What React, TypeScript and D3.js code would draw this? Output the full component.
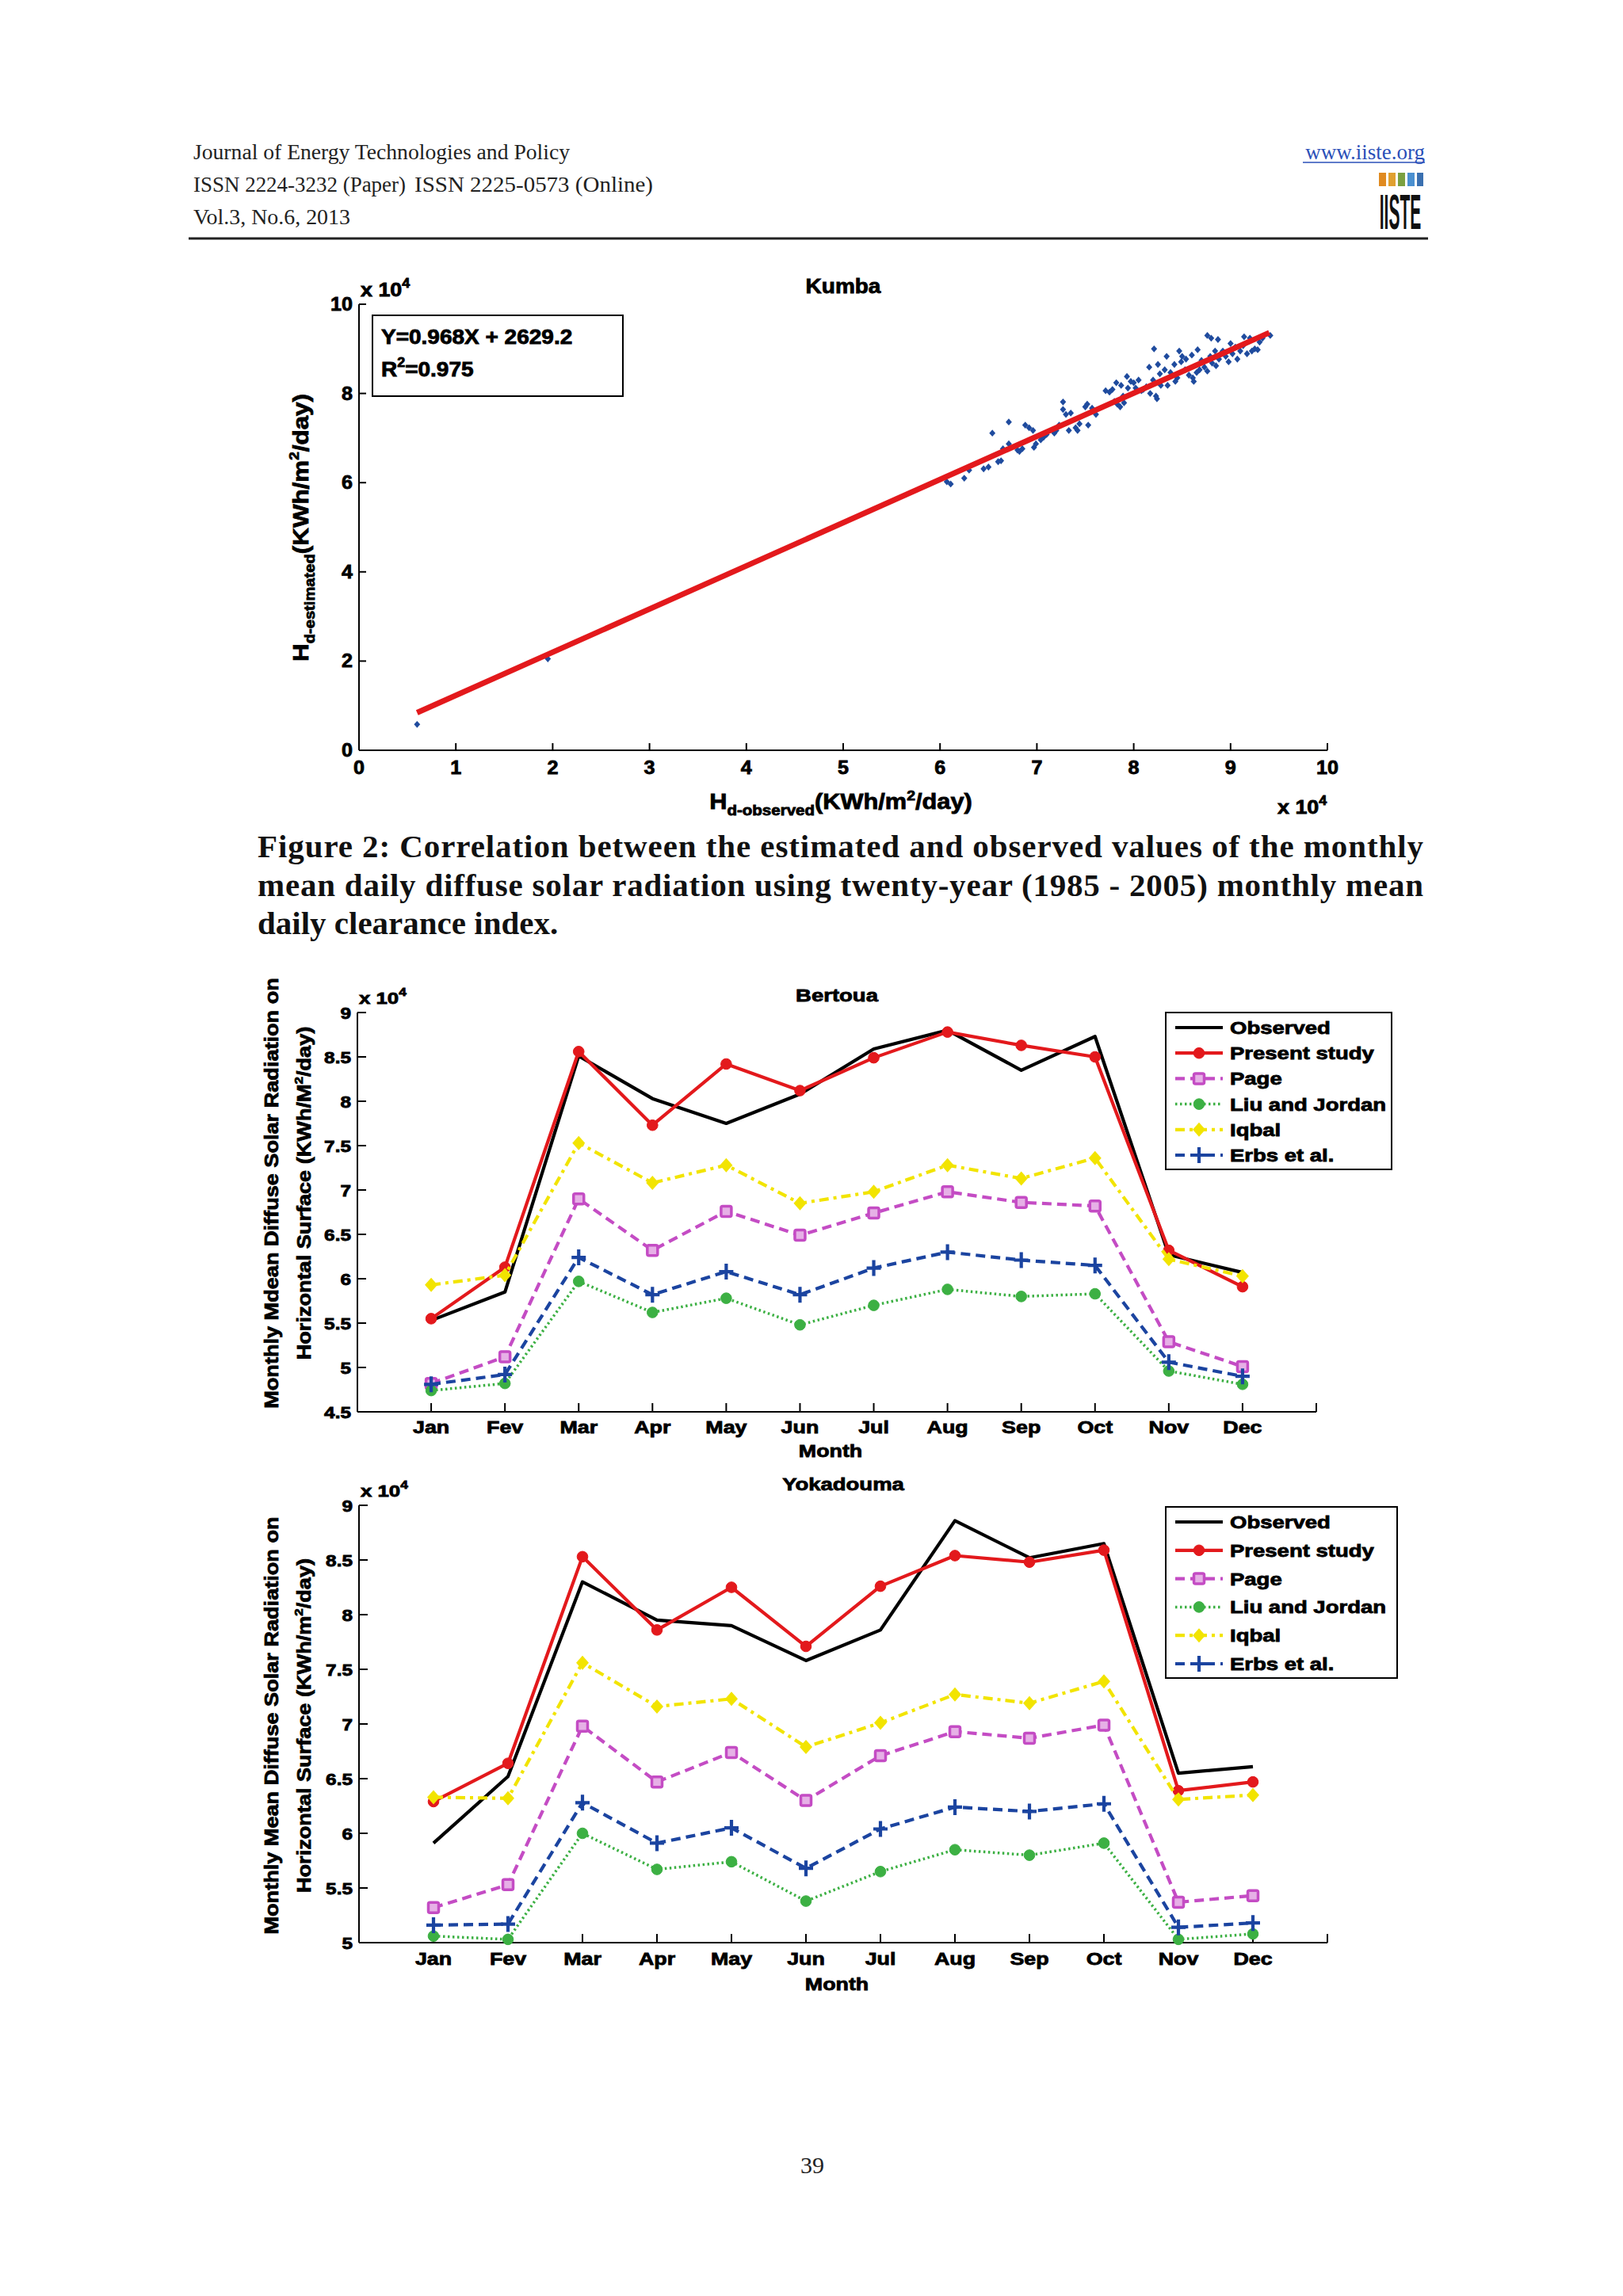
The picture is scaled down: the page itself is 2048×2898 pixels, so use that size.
import React from 'react';
import * as d3 from 'd3';

// ---------- DATA ----------
const MONTHS = ['Jan', 'Fev', 'Mar', 'Apr', 'May', 'Jun', 'Jul', 'Aug', 'Sep', 'Oct', 'Nov', 'Dec'];
const SERIES_NAMES = ['Observed', 'Present study', 'Page', 'Liu and Jordan', 'Iqbal', 'Erbs et al.'];

// Bertoua (x 10^4 KWh/M^2/day)
const BERTOUA_OBSERVED = [5.53, 5.85, 8.51, 8.03, 7.75, 8.08, 8.59, 8.8, 8.35, 8.73, 6.27, 6.07];
const BERTOUA_PRESENT = [5.55, 6.13, 8.56, 7.73, 8.42, 8.12, 8.49, 8.78, 8.63, 8.5, 6.32, 5.91];
const BERTOUA_PAGE = [4.82, 5.12, 6.9, 6.32, 6.76, 6.49, 6.74, 6.98, 6.86, 6.82, 5.29, 5.01];
const BERTOUA_LIU = [4.74, 4.82, 5.97, 5.62, 5.78, 5.48, 5.7, 5.88, 5.8, 5.83, 4.96, 4.81];
const BERTOUA_IQBAL = [5.93, 6.04, 7.53, 7.08, 7.28, 6.85, 6.98, 7.28, 7.13, 7.36, 6.22, 6.03];
const BERTOUA_ERBS = [4.81, 4.92, 6.24, 5.82, 6.08, 5.82, 6.12, 6.3, 6.21, 6.15, 5.06, 4.9];

// Yokadouma (x 10^4 KWh/m^2/day)
const YOKADOUMA_OBSERVED = [5.91, 6.52, 8.3, 7.95, 7.9, 7.58, 7.86, 8.86, 8.52, 8.65, 6.55, 6.61];
const YOKADOUMA_PRESENT = [6.29, 6.64, 8.53, 7.86, 8.25, 7.71, 8.26, 8.54, 8.48, 8.59, 6.39, 6.47];
const YOKADOUMA_PAGE = [5.32, 5.53, 6.98, 6.47, 6.74, 6.3, 6.71, 6.93, 6.87, 6.99, 5.37, 5.43];
const YOKADOUMA_LIU = [5.06, 5.03, 6.0, 5.67, 5.74, 5.38, 5.65, 5.85, 5.8, 5.91, 5.03, 5.08];
const YOKADOUMA_IQBAL = [6.33, 6.32, 7.56, 7.16, 7.23, 6.79, 7.01, 7.27, 7.19, 7.39, 6.31, 6.35];
const YOKADOUMA_ERBS = [5.16, 5.17, 6.28, 5.91, 6.05, 5.68, 6.04, 6.24, 6.2, 6.27, 5.14, 5.18];

// Kumba scatter (x 10^4 KWh/m^2/day)
const KUMBA_OBSERVED = [
  0.6, 1.95, 6.07, 6.11, 6.25, 6.3, 6.45, 6.5, 6.54, 6.6, 6.63, 6.65, 6.71, 6.71, 6.8, 6.82, 6.85,
  6.88, 6.92, 6.96, 6.97, 6.99, 7.04, 7.07, 7.1, 7.18, 7.2, 7.23, 7.27, 7.27, 7.3, 7.33, 7.35,
  7.4, 7.42, 7.44, 7.5, 7.52, 7.53, 7.57, 7.61, 7.71, 7.75, 7.78, 7.8, 7.82, 7.83, 7.86, 7.87,
  7.89, 7.9, 7.93, 7.94, 7.97, 8.0, 8.02, 8.05, 8.08, 8.1, 8.13, 8.16, 8.17, 8.2, 8.21, 8.23,
  8.24, 8.25, 8.27, 8.28, 8.32, 8.34, 8.35, 8.38, 8.42, 8.43, 8.45, 8.47, 8.49, 8.5, 8.53, 8.54,
  8.57, 8.6, 8.61, 8.62, 8.65, 8.66, 8.68, 8.7, 8.73, 8.76, 8.76, 8.79, 8.8, 8.81, 8.84, 8.85,
  8.87, 8.88, 8.9, 8.92, 8.95, 8.98, 9.0, 9.02, 9.05, 9.07, 9.1, 9.13, 9.14, 9.17, 9.2, 9.22,
  9.25, 9.28, 9.3, 9.33, 9.41,
];
const KUMBA_ESTIMATED = [
  0.58, 2.05, 6.02, 5.97, 6.1, 6.28, 6.31, 6.35, 7.11, 6.47, 6.49, 6.76, 7.36, 6.87, 6.73, 6.7, 6.76,
  7.29, 7.23, 7.17, 6.79, 6.87, 6.96, 7.02, 7.08, 7.11, 7.17, 7.29, 7.81, 7.64, 7.53, 7.17, 7.56,
  7.23, 7.17, 7.32, 7.7, 7.76, 7.29, 7.67, 7.53, 8.06, 8.03, 8.09, 7.82, 8.24, 7.76, 7.7, 8.18,
  7.94, 7.79, 8.38, 8.12, 8.27, 8.24, 8.12, 8.3, 8.06, 8.09, 8.15, 8.59, 8.0, 8.3, 9.0, 7.94,
  7.88, 8.65, 8.44, 8.18, 8.53, 8.83, 8.18, 8.47, 8.65, 8.27, 8.35, 8.95, 8.71, 8.83, 8.53, 8.77,
  8.41, 8.86, 8.35, 8.27, 8.47, 8.98, 8.53, 8.74, 8.59, 9.3, 8.5, 8.83, 9.24, 8.68, 8.95, 8.62,
  9.21, 8.77, 8.89, 8.95, 8.83, 8.71, 9.12, 8.89, 9.04, 8.77, 8.95, 9.07, 9.27, 8.89, 9.24, 8.95,
  9.0, 8.98, 9.15, 9.24, 9.3,
];
const REG_SLOPE = 0.968;
const REG_INTERCEPT = 2629.2;
const REG_X_RANGE = [0.6, 9.4];
const KUMBA_TICKS = [0, 1, 2, 3, 4, 5, 6, 7, 8, 9, 10];
const KUMBA_Y_TICKS = [0, 2, 4, 6, 8, 10];

// ---------- STYLES ----------
const SANS = 'Liberation Sans, Arial, Helvetica, sans-serif';
const SERIF = 'Liberation Serif, Times New Roman, serif';
const SX = 1.23;

const STYLES = [
  { color: '#000000', width: 4.2, dash: null as string | null, marker: 'none' },
  { color: '#e3191c', width: 4.2, dash: null, marker: 'circle' },
  { color: '#c44cc4', width: 4.2, dash: '12 7', marker: 'square' },
  { color: '#3cb043', width: 3.5, dash: '2.5 3.5', marker: 'circle' },
  { color: '#f2e400', width: 4.2, dash: '12 6 4 6', marker: 'diamond' },
  { color: '#1b44a0', width: 4.2, dash: '12 7', marker: 'plus' },
];

function T(props: any) {
  const {
    x, y, children, size = 20, anchor = 'middle', sx = SX, weight = 'bold', family = SANS,
    rotate = 0, fill = '#000', thick = 0.8,
  } = props;
  return (
    <text
      transform={`translate(${x},${y}) rotate(${rotate}) scale(${sx},1)`}
      textAnchor={anchor}
      fontSize={size}
      fontWeight={weight}
      fontFamily={family}
      fill={fill}
      stroke={fill}
      strokeWidth={thick}
    >
      {children}
    </text>
  );
}

function Marker({ type, x, y, color }: any) {
  if (type === 'circle') return <circle cx={x} cy={y} r={6.8} fill={color} stroke={color} strokeWidth={1} />;
  if (type === 'square')
    return <rect x={x - 6.5} y={y - 6.5} width={13} height={13} rx={2} fill="#e6b0e6" stroke={color} strokeWidth={3.5} />;
  if (type === 'diamond')
    return <path d={`M${x},${y - 9}L${x + 8},${y}L${x},${y + 9}L${x - 8},${y}Z`} fill={color} />;
  if (type === 'plus')
    return (
      <path d={`M${x - 9},${y}H${x + 9}M${x},${y - 10}V${y + 10}`} stroke={color} strokeWidth={4.2} fill="none" />
    );
  return null;
}

function LineChart(props: any) {
  const { title, series, yDomain, yTicks, xRange, yRange, legendBox, yLabel1, yLabelCenter, titleY, monthY, monthLabelY, unitsLower } = props;
  const x = d3.scaleLinear().domain([0, 13]).range(xRange);
  const y = d3.scaleLinear().domain(yDomain).range(yRange);
  const line = d3
    .line<number>()
    .x((_, i) => x(i + 1))
    .y((d) => y(d));
  const fmt = d3.format('.1~f');
  const lb = legendBox;
  const rowStep = (lb.y1 - lb.y0 - 37) / 5;
  return (
    <g>
      <T x={(xRange[0] + xRange[1]) / 2} y={titleY} size={22} sx={1.25}>{title}</T>
      <T x={xRange[0] + 2} y={yRange[1] - 11} size={21} anchor="start">
        x 10<tspan fontSize={14} dy={-10}>4</tspan>
      </T>
      <line x1={xRange[0]} x2={xRange[0]} y1={yRange[1]} y2={yRange[0]} stroke="#000" strokeWidth={2} />
      <line x1={xRange[0]} x2={xRange[1]} y1={yRange[0]} y2={yRange[0]} stroke="#000" strokeWidth={2} />
      {yTicks.map((t: number) => (
        <g key={t}>
          <line x1={xRange[0]} x2={xRange[0] + 11} y1={y(t)} y2={y(t)} stroke="#000" strokeWidth={2} />
          <T x={xRange[0] - 8} y={y(t) + 7.5} size={20} sx={1.22} anchor="end">{fmt(t)}</T>
        </g>
      ))}
      {MONTHS.map((m, i) => (
        <g key={m}>
          <line x1={x(i + 1)} x2={x(i + 1)} y1={yRange[0]} y2={yRange[0] - 11} stroke="#000" strokeWidth={2} />
          <T x={x(i + 1)} y={monthY} size={22} sx={1.22}>{m}</T>
        </g>
      ))}
      <line x1={x(13)} x2={x(13)} y1={yRange[0]} y2={yRange[0] - 11} stroke="#000" strokeWidth={2} />
      <T x={(xRange[0] + xRange[1]) / 2 - 8} y={monthLabelY} size={22} sx={1.22}>Month</T>
      <T x={351} y={yLabelCenter} size={24} rotate={-90} sx={1.13}>{yLabel1}</T>
      <T x={392} y={yLabelCenter} size={24} rotate={-90} sx={1.13}>
        Horizontal Surface (KWh/{unitsLower ? 'm' : 'M'}
        <tspan fontSize={15} dy={-10}>2</tspan>
        <tspan dy={10}>/day)</tspan>
      </T>
      {series.map((s: number[], k: number) => {
        const st = STYLES[k];
        return (
          <g key={k}>
            <path
              d={line(s) || ''}
              fill="none"
              stroke={st.color}
              strokeWidth={st.width}
              strokeDasharray={st.dash || undefined}
              strokeLinejoin="round"
            />
            {s.map((v, i) => (
              <Marker key={i} type={st.marker} x={x(i + 1)} y={y(v)} color={st.color} />
            ))}
          </g>
        );
      })}
      <rect x={lb.x0} y={lb.y0} width={lb.x1 - lb.x0} height={lb.y1 - lb.y0} fill="#fff" stroke="#000" strokeWidth={2} />
      {SERIES_NAMES.map((n, k) => {
        const st = STYLES[k];
        const ry = lb.y0 + 19 + k * rowStep;
        return (
          <g key={n}>
            <line
              x1={lb.x0 + 12}
              x2={lb.x0 + 72}
              y1={ry}
              y2={ry}
              stroke={st.color}
              strokeWidth={st.width}
              strokeDasharray={st.dash || undefined}
            />
            <Marker type={st.marker} x={lb.x0 + 42} y={ry} color={st.color} />
            <T x={lb.x0 + 81} y={ry + 8} size={22} sx={1.25} anchor="start">{n}</T>
          </g>
        );
      })}
    </g>
  );
}

function Kumba() {
  const x = d3.scaleLinear().domain([0, 10]).range([453, 1675]);
  const y = d3.scaleLinear().domain([0, 10]).range([947, 384]);
  const regY = (v: number) => (REG_SLOPE * v * 1e4 + REG_INTERCEPT) / 1e4;
  return (
    <g>
      <T x={1064} y={370} size={25} sx={1.12}>Kumba</T>
      <T x={455} y={374} size={24} sx={1.12} anchor="start">
        x 10<tspan fontSize={16} dy={-11}>4</tspan>
      </T>
      <line x1={453} x2={453} y1={384} y2={947} stroke="#000" strokeWidth={2} />
      <line x1={453} x2={1675} y1={947} y2={947} stroke="#000" strokeWidth={2} />
      {KUMBA_TICKS.map((t) => (
        <g key={t}>
          <line x1={x(t)} x2={x(t)} y1={947} y2={938} stroke="#000" strokeWidth={2} />
          <T x={x(t)} y={977} size={24} sx={1.05}>{t}</T>
        </g>
      ))}
      {KUMBA_Y_TICKS.map((t) => (
        <g key={t}>
          <line x1={453} x2={462} y1={y(t)} y2={y(t)} stroke="#000" strokeWidth={2} />
          <T x={445} y={y(t) + 8} size={24} sx={1.05} anchor="end">{t}</T>
        </g>
      ))}
      {KUMBA_OBSERVED.map((v, i) => {
        const cx = x(v);
        const cy = y(KUMBA_ESTIMATED[i]);
        return <path key={i} d={`M${cx},${cy - 4.4}L${cx + 3.9},${cy}L${cx},${cy + 4.4}L${cx - 3.9},${cy}Z`} fill="#1f4b9e" />;
      })}
      <line
        x1={x(REG_X_RANGE[0])}
        y1={y(regY(REG_X_RANGE[0]))}
        x2={x(REG_X_RANGE[1])}
        y2={y(regY(REG_X_RANGE[1]))}
        stroke="#e3191c"
        strokeWidth={7}
      />
      <rect x={470} y={398} width={316} height={102} fill="#fff" stroke="#000" strokeWidth={2} />
      <T x={481} y={434} size={25} sx={1.12} anchor="start">Y=0.968X + 2629.2</T>
      <T x={481} y={475} size={25} sx={1.12} anchor="start">
        R<tspan fontSize={16} dy={-12}>2</tspan>
        <tspan dy={12}>=0.975</tspan>
      </T>
      <T x={1061} y={1021} size={27} sx={1.14}>
        H<tspan fontSize={18} dy={8}>d-observed</tspan>
        <tspan dy={-8}>(KWh/m</tspan>
        <tspan fontSize={17} dy={-11}>2</tspan>
        <tspan dy={11}>/day)</tspan>
      </T>
      <T x={1612} y={1027} size={24} sx={1.12} anchor="start">
        x 10<tspan fontSize={16} dy={-11}>4</tspan>
      </T>
      <T x={389} y={666} size={28} rotate={-90} sx={1.12}>
        H<tspan fontSize={18} dy={8}>d-estimated</tspan>
        <tspan dy={-8}>(KWh/m</tspan>
        <tspan fontSize={17} dy={-12}>2</tspan>
        <tspan dy={12}>/day)</tspan>
      </T>
    </g>
  );
}

function Header() {
  return (
    <g fontFamily={SERIF} fontSize={27} fill="#222">
      <text x={244} y={201} textLength={475} lengthAdjust="spacingAndGlyphs">Journal of Energy Technologies and Policy</text>
      <text x={244} y={242} textLength={268} lengthAdjust="spacingAndGlyphs">ISSN 2224-3232 (Paper)</text>
      <text x={523} y={242} textLength={301} lengthAdjust="spacingAndGlyphs">ISSN 2225-0573 (Online)</text>
      <text x={244} y={283} textLength={198} lengthAdjust="spacingAndGlyphs">Vol.3, No.6, 2013</text>
      <text x={1798} y={201} textAnchor="end" fill="#2a4fb8">www.iiste.org</text>
      <line x1={1644} x2={1798} y1={205} y2={205} stroke="#2a4fb8" strokeWidth={1.5} />
      <rect x={1740} y={218} width={9} height={17} fill="#e08a20" />
      <rect x={1752} y={218} width={9} height={17} fill="#e0a030" />
      <rect x={1764} y={218} width={9} height={17} fill="#7aa040" />
      <rect x={1776} y={218} width={9} height={17} fill="#4a90d0" />
      <rect x={1788} y={218} width={8} height={17} fill="#3a70b0" />
      <text transform="translate(1767,289) scale(0.42,1.25)" textAnchor="middle" fontFamily={SANS} fontWeight="bold" fontSize={50} fill="#111">
        IISTE
      </text>
      <line x1={238} x2={1802} y1={301} y2={301} stroke="#222" strokeWidth={3} />
    </g>
  );
}

function Caption() {
  return (
    <g fontFamily={SERIF} fontSize={41} fontWeight="bold" fill="#111">
      <text x={325} y={1082} textLength={1471} lengthAdjust="spacing">
        Figure 2: Correlation between the estimated and observed values of the monthly
      </text>
      <text x={325} y={1131} textLength={1471} lengthAdjust="spacing">
        mean daily diffuse solar radiation using twenty-year (1985 - 2005) monthly mean
      </text>
      <text x={325} y={1179}>daily clearance index.</text>
    </g>
  );
}

export default function App() {
  return (
    <svg
      width={2048}
      height={2898}
      viewBox="0 0 2048 2898"
      style={{ position: 'absolute', left: 0, top: 0, background: '#fff' }}
    >
      <rect x={0} y={0} width={2048} height={2898} fill="#fff" />
      <Header />
      <Kumba />
      <Caption />
      <LineChart
        title="Bertoua"
        titleY={1264}
        series={[BERTOUA_OBSERVED, BERTOUA_PRESENT, BERTOUA_PAGE, BERTOUA_LIU, BERTOUA_IQBAL, BERTOUA_ERBS]}
        yDomain={[4.5, 9]}
        yTicks={d3.range(4.5, 9.01, 0.5)}
        xRange={[451, 1661]}
        yRange={[1782, 1278]}
        legendBox={{ x0: 1471, x1: 1756, y0: 1278, y1: 1476 }}
        yLabel1="Monthly Mdean Diffuse Solar Radiation on"
        yLabelCenter={1506}
        monthY={1809}
        monthLabelY={1839}
        unitsLower={false}
      />
      <LineChart
        title="Yokadouma"
        titleY={1881}
        series={[YOKADOUMA_OBSERVED, YOKADOUMA_PRESENT, YOKADOUMA_PAGE, YOKADOUMA_LIU, YOKADOUMA_IQBAL, YOKADOUMA_ERBS]}
        yDomain={[5, 9]}
        yTicks={d3.range(5, 9.01, 0.5)}
        xRange={[453, 1675]}
        yRange={[2452, 1900]}
        legendBox={{ x0: 1471, x1: 1763, y0: 1902, y1: 2118 }}
        yLabel1="Monthly Mean Diffuse Solar Radiation on"
        yLabelCenter={2178}
        monthY={2480}
        monthLabelY={2512}
        unitsLower={true}
      />
      <text x={1025} y={2743} textAnchor="middle" fontFamily={SERIF} fontSize={30} fill="#222">
        39
      </text>
    </svg>
  );
}
